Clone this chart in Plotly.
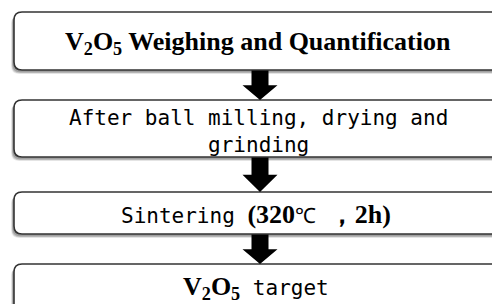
import plotly.graph_objects as go

# ---- data ----
SERIF = "Liberation Serif"
MONO = "DejaVu Sans Mono"

# each step: list of (text, style) parts; style "m" = mono regular, "b" = bold serif
step_parts = [
    [("V<sub>2</sub>O<sub>5</sub> Weighing and Quantification", "b")],
    [("After ball milling, drying and<br>grinding", "m")],
    [("Sintering ", "m"), ("(320", "b"), ("℃ ", "m"), ("，2h)", "b")],
    [("V<sub>2</sub>O<sub>5</sub>", "b"), (" target", "m")],
]

# ---- layout (pixel space) ----
W, H = 492, 304
box_x0, box_x1 = 14, 520
box_tops = [12, 100, 192, 264]
box_bots = [70, 157, 234, 330]
text_cx = [258, 258, 256, 256]
text_cy = [43, 131, 214, 288]
R = 8
arrow_cx = 260
shaft_half, head_half = 8.5, 17.5
STYLE = {
    "m": f"font-family:{MONO};font-size:21px",
    "b": f"font-family:{SERIF};font-size:26px;font-weight:bold",
}


def rrect(x0, y0, x1, y1, r):
    return (f"M {x0+r},{y0} L {x1-r},{y0} Q {x1},{y0} {x1},{y0+r} "
            f"L {x1},{y1-r} Q {x1},{y1} {x1-r},{y1} L {x0+r},{y1} "
            f"Q {x0},{y1} {x0},{y1-r} L {x0},{y0+r} Q {x0},{y0} {x0+r},{y0} Z")


shapes = []
# shadows
for i in range(len(step_parts)):
    for dx, dy, a in [(-3, 4, 0.08), (-2.5, 3.5, 0.12), (-2, 3, 0.18), (-1.5, 2.2, 0.22)]:
        shapes.append(dict(type="path",
                           path=rrect(box_x0 + dx, box_tops[i] + dy, box_x1 + dx, box_bots[i] + dy, R),
                           fillcolor=f"rgba(60,60,60,{a})", line=dict(width=0), layer="below"))
# boxes
for i in range(len(step_parts)):
    shapes.append(dict(type="path",
                       path=rrect(box_x0, box_tops[i], box_x1, box_bots[i], R),
                       fillcolor="white", line=dict(color="#333333", width=1.6), layer="below"))
# arrows
for i in range(len(step_parts) - 1):
    y0 = box_bots[i] + 0.5
    y1 = box_tops[i + 1]
    yh = y0 + (y1 - y0) * 0.5
    p = (f"M {arrow_cx-shaft_half},{y0} L {arrow_cx+shaft_half},{y0} "
         f"L {arrow_cx+shaft_half},{yh} L {arrow_cx+head_half},{yh} "
         f"L {arrow_cx},{y1} L {arrow_cx-head_half},{yh} "
         f"L {arrow_cx-shaft_half},{yh} Z")
    shapes.append(dict(type="path", path=p, fillcolor="black", line=dict(width=0), layer="above"))

annotations = []
for i, parts in enumerate(step_parts):
    segs = []
    for t, s in parts:
        if s == "b":
            segs.append(f"<span style='{STYLE[s]}'><b>{t}</b></span>")
        else:
            lines = t.split("<br>")
            segs.append("<br>".join(f"<span style='{STYLE[s]}'>{ln}</span>" for ln in lines))
    annotations.append(dict(
        x=text_cx[i], y=text_cy[i], xref="x", yref="y", text="".join(segs), showarrow=False,
        font=dict(family=MONO if parts[0][1] == "m" else SERIF,
                  size=21 if parts[0][1] == "m" else 26, color="black"),
        xanchor="center", yanchor="middle", align="center",
    ))

fig = go.Figure()
fig.update_layout(
    width=W, height=H, margin=dict(l=0, r=0, t=0, b=0),
    paper_bgcolor="white", plot_bgcolor="white",
    xaxis=dict(range=[0, W], visible=False, fixedrange=True),
    yaxis=dict(range=[H, 0], visible=False, fixedrange=True),
    shapes=shapes, annotations=annotations, showlegend=False,
)
fig.write_html("out.html", config={"displayModeBar": False},
               post_script="document.body.style.margin='0';document.body.style.overflow='hidden';")
